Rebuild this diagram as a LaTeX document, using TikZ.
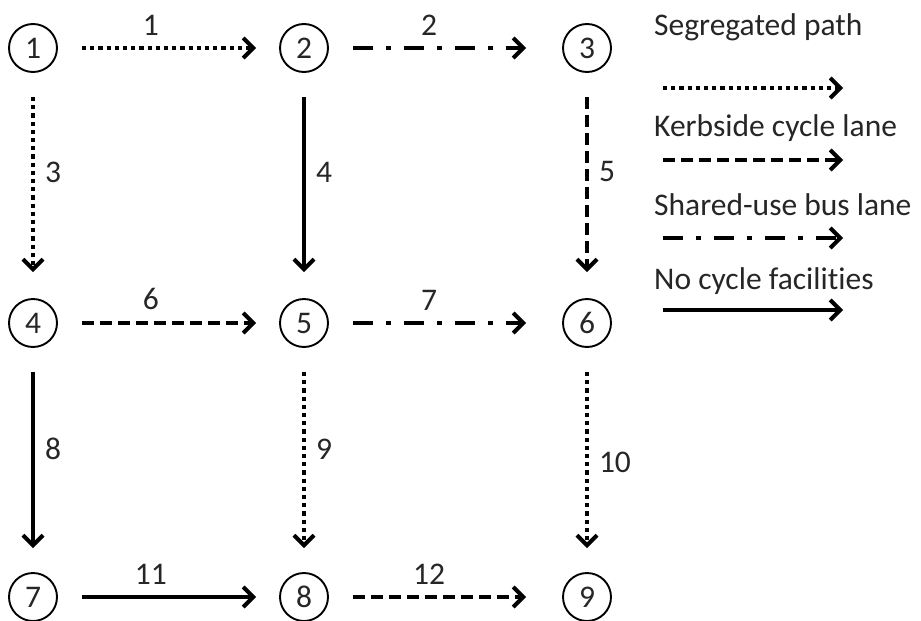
\documentclass[tikz,border=0pt]{standalone}
\usepackage{fontspec}
\setmainfont{Carlito}[Ligatures=NoCommon]
\usetikzlibrary{arrows.meta}

\begin{document}
\begin{tikzpicture}[x=1pt,y=-1pt,
        font=\fontsize{31.5}{37}\selectfont,
        stop/.style={draw,circle,line width=1.9pt,minimum size=48pt,inner sep=0pt,text=black!85},
        link/.style={line width=4pt,shorten <=24pt,shorten >=23pt,
                     -{Straight Barb[length=10pt,width=20pt]}},
        seg/.style={dash pattern=on 4.2pt off 4pt},
        kerb/.style={dash pattern=on 12pt off 6pt},
        bus/.style={dash pattern=on 20pt off 13pt on 5pt off 13pt},
        lbl/.style={text=black!85,inner sep=1pt}]
        \useasboundingbox (0,0) rectangle (921,621);

        %Knoten
        \node[stop] (n1) at (33,48) {1};
        \node[stop] (n2) at (304,48) {2};
        \node[stop] (n3) at (587,48) {3};
        \node[stop] (n4) at (33,323) {4};
        \node[stop] (n5) at (304,323) {5};
        \node[stop] (n6) at (587,323) {6};
        \node[stop] (n7) at (33,597) {7};
        \node[stop] (n8) at (304,597) {8};
        \node[stop] (n9) at (587,597) {9};

        %Strecken waagrecht
        \draw[link,seg] (n1) -- (n2) node[lbl,above=10pt,pos=.42]{1};
        \draw[link,bus,shorten >=36pt] (n2) -- (n3) node[lbl,above=10pt,pos=.43]{2};
        \draw[link,kerb] (n4) -- (n5) node[lbl,above=10pt,pos=.42]{6};
        \draw[link,bus,shorten >=36pt] (n5) -- (n6) node[lbl,above=10pt,pos=.43]{7};
        \draw[link] (n7) -- (n8) node[lbl,above=10pt,pos=.42]{11};
        \draw[link,kerb,shorten >=36pt] (n8) -- (n9) node[lbl,above=10pt,pos=.43]{12};

        %Strecken senkrecht
        \draw[link,seg,shorten >=26pt] (n1) -- (n4) node[lbl,right=9pt,pos=.44]{3};
        \draw[link,shorten >=26pt] (n2) -- (n5) node[lbl,right=9pt,pos=.44]{4};
        \draw[link,kerb,shorten >=26pt] (n3) -- (n6) node[lbl,right=9pt,pos=.44]{5};
        \draw[link,shorten >=24pt] (n4) -- (n7) node[lbl,right=9pt,pos=.45]{8};
        \draw[link,seg,shorten >=24pt] (n5) -- (n8) node[lbl,right=9pt,pos=.45]{9};
        \draw[link,seg,shorten >=24pt] (n6) -- (n9) node[lbl,right=9pt,pos=.51]{10};

        %Legende
        \node[lbl,anchor=west] (tseg) at (653,27) {Segregated path};
        \node[lbl,anchor=west] (tkerb) at (653,128) {Kerbside cycle lane};
        \node[lbl,anchor=west] (tbus) at (653,205) {Shared-use bus lane};
        \node[lbl,anchor=west] (tnone) at (653,281) {No cycle facilities};
        \coordinate (segA) at (663,88);   \coordinate (segB) at (843,88);
        \coordinate (kerbA) at (663,160); \coordinate (kerbB) at (843,160);
        \coordinate (busA) at (663,238);  \coordinate (busB) at (843,238);
        \coordinate (noneA) at (663,310); \coordinate (noneB) at (843,310);
        \draw[link,seg,shorten <=0pt,shorten >=0pt] (segA) -- (segB);
        \draw[link,kerb,shorten <=0pt,shorten >=0pt] (kerbA) -- (kerbB);
        \draw[link,bus,shorten <=0pt,shorten >=0pt] (busA) -- (busB);
        \draw[link,shorten <=0pt,shorten >=0pt] (noneA) -- (noneB);
\end{tikzpicture}
\end{document}
